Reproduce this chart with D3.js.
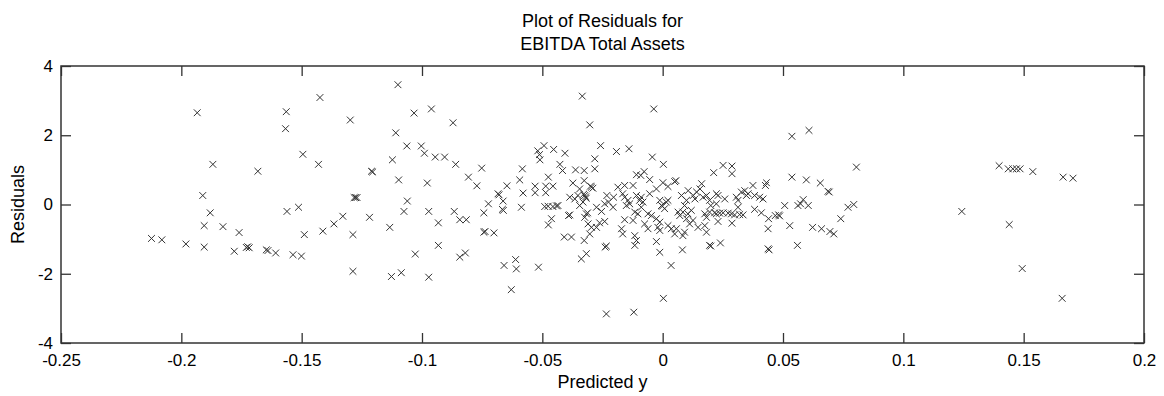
<!DOCTYPE html>
<html>
<head>
<meta charset="utf-8">
<script src="https://cdn.jsdelivr.net/npm/d3@7"></script>
<style>
  html, body { margin: 0; padding: 0; background: #fff; }
  text { font-family: "Liberation Sans", Arial, sans-serif; fill: #000; }
</style>
</head>
<body>
<div id="chart"></div>
<script>
const titleLines = ["Plot of Residuals for", "EBITDA Total Assets"];
const xLabel = "Predicted y";
const yLabel = "Residuals";

const xTickValues = [-0.25, -0.2, -0.15, -0.1, -0.05, 0, 0.05, 0.1, 0.15, 0.2];
const xTickLabels = ["-0.25", "-0.2", "-0.15", "-0.1", "-0.05", "0", "0.05", "0.1", "0.15", "0.2"];
const yTickValues = [-4, -2, 0, 2, 4];
const yTickLabels = ["-4", "-2", "0", "2", "4"];

// predicted y (x) and residual (y)
const predicted = [
  -0.2124, -0.2081, -0.1981, -0.1934, -0.1911, -0.1905, -0.1905, -0.1880, -0.1869, -0.1827,
  -0.1780, -0.1760, -0.1724, -0.1718, -0.1730, -0.1682, -0.1647, -0.1640, -0.1608, -0.1567,
  -0.1564, -0.1561, -0.1536, -0.1513, -0.1501, -0.1495, -0.1489, -0.1430, -0.1424, -0.1412,
  -0.1366, -0.1329, -0.1298, -0.1287, -0.1287, -0.1282, -0.1276, -0.1270, -0.1218, -0.1210,
  -0.1205, -0.1134, -0.1127, -0.1123, -0.1109, -0.1100, -0.1097, -0.1086, -0.1075, -0.1063,
  -0.1061, -0.1033, -0.1028, -0.1003, -0.0990, -0.0978, -0.0972, -0.0972, -0.0961, -0.0945,
  -0.0932, -0.0932, -0.0906, -0.0871, -0.0866, -0.0860, -0.0843, -0.0843, -0.0820, -0.0816,
  -0.0807, -0.0772, -0.0752, -0.0743, -0.0743, -0.0738, -0.0724, -0.0701, -0.0684, -0.0680,
  -0.0666, -0.0662, -0.0663, -0.0659, -0.0647, -0.0629, -0.0611, -0.0608, -0.0594, -0.0587,
  -0.0583, -0.0580, -0.0530, -0.0530, -0.0519, -0.0516, -0.0512, -0.0510, -0.0493, -0.0490,
  -0.0486, -0.0486, -0.0476, -0.0475, -0.0475, -0.0462, -0.0456, -0.0456, -0.0453, -0.0441,
  -0.0435, -0.0427, -0.0416, -0.0409, -0.0406, -0.0391, -0.0386, -0.0386, -0.0379, -0.0373,
  -0.0365, -0.0362, -0.0352, -0.0345, -0.0345, -0.0338, -0.0334, -0.0331, -0.0326, -0.0326,
  -0.0326, -0.0324, -0.0320, -0.0328, -0.0318, -0.0324, -0.0317, -0.0312, -0.0317, -0.0310,
  -0.0303, -0.0303, -0.0296, -0.0290, -0.0300, -0.0296, -0.0282, -0.0282, -0.0275, -0.0275,
  -0.0262, -0.0258, -0.0254, -0.0241, -0.0241, -0.0239, -0.0234, -0.0234, -0.0232, -0.0225,
  -0.0206, -0.0204, -0.0192, -0.0186, -0.0171, -0.0166, -0.0166, -0.0158, -0.0158, -0.0158,
  -0.0151, -0.0144, -0.0140, -0.0137, -0.0123, -0.0123, -0.0120, -0.0116, -0.0116, -0.0116,
  -0.0109, -0.0109, -0.0109, -0.0103, -0.0096, -0.0091, -0.0089, -0.0089, -0.0082, -0.0077,
  -0.0075, -0.0061, -0.0061, -0.0054, -0.0054, -0.0047, -0.0043, -0.0037, -0.0026, -0.0026,
  -0.0026, -0.0020, -0.0012, -0.0012, -0.0012, -0.0012, -0.0005, -0.0001, 0.0001, 0.0003,
  0.0003, 0.0008, 0.0015, 0.0022, 0.0022, 0.0022, 0.0035, 0.0036, 0.0050, 0.0055,
  0.0050, 0.0057, 0.0064, 0.0071, 0.0078, 0.0082, 0.0084, 0.0084, 0.0091, 0.0091,
  0.0099, 0.0099, 0.0105, 0.0106, 0.0112, 0.0119, 0.0126, 0.0127, 0.0134, 0.0141,
  0.0147, 0.0155, 0.0162, 0.0168, 0.0175, 0.0175, 0.0182, 0.0182, 0.0182, 0.0195,
  0.0195, 0.0195, 0.0200, 0.0200, 0.0212, 0.0223, 0.0223, 0.0223, 0.0216, 0.0230,
  0.0230, 0.0237, 0.0240, 0.0251, 0.0251, 0.0258, 0.0272, 0.0286, 0.0288, 0.0288,
  0.0288, 0.0299, 0.0306, 0.0313, 0.0313, 0.0320, 0.0327, 0.0334, 0.0341, 0.0348,
  0.0355, 0.0375, 0.0382, 0.0382, 0.0403, 0.0410, 0.0417, 0.0427, 0.0431, 0.0438,
  0.0438, 0.0442, 0.0440, 0.0468, 0.0482, 0.0486, 0.0507, 0.0528, 0.0537, 0.0537,
  0.0560, 0.0562, 0.0573, 0.0584, 0.0597, 0.0605, 0.0608, 0.0623, 0.0655, 0.0660,
  0.0687, 0.0692, 0.0695, 0.0711, 0.0740, 0.0770, 0.0794, 0.0805, 0.1243, 0.1398,
  0.1436, 0.1440, 0.1455, 0.1470, 0.1485, 0.1494, 0.1538, 0.1660, 0.1664, 0.1705
];
const residuals = [
  -0.98, -1.02, -1.14, 2.65, 0.26, -0.61, -1.23, -0.24, 1.16, -0.64,
  -1.35, -0.81, -1.22, -1.25, -1.24, 0.96, -1.31, -1.33, -1.40, 2.19,
  2.68, -0.20, -1.45, -0.08, -1.49, 1.45, -0.87, 1.16, 3.09, -0.77,
  -0.56, -0.34, 2.44, -0.87, -1.93, 0.20, 0.20, 0.20, -0.37, 0.96,
  0.94, -0.66, -2.08, 1.29, 2.07, 3.46, 0.71, -1.97, -0.20, 1.69,
  0.10, 2.64, -1.43, 1.69, 1.48, 0.62, -0.20, -2.10, 2.76, 1.37,
  -0.53, -1.18, 1.37, 2.36, -0.20, 1.16, -0.44, -1.52, -1.40, -0.44,
  0.79, 0.54, 1.05, -0.24, -0.80, -0.78, 0.02, -0.82, 0.31, 0.28,
  -0.14, -0.17, 0.10, -1.76, 0.54, -2.46, -1.59, -1.86, 0.71, -0.08,
  1.03, 0.33, 0.53, 0.34, 1.55, -1.81, 1.44, 1.29, 1.70, -0.06,
  0.53, 0.34, -0.05, 0.79, -0.59, -0.41, 0.53, -0.06, 1.59, -0.04,
  -0.03, 1.16, 0.98, -0.94, 1.48, -0.32, -0.30, 0.21, -0.94, 0.62,
  0.16, 1.00, 0.26, 0.45, -0.03, -1.57, 3.13, 0.07, 0.98, 0.69,
  -1.04, 0.26, 0.22, 0.30, 0.18, -0.37, -0.27, -0.24, -1.42, -0.56,
  2.30, -0.85, 0.50, 0.47, 0.53, -0.66, 1.32, 1.03, -0.08, -0.66,
  -0.53, 1.70, -0.20, 0.02, -0.49, -1.23, -1.20, -3.16, 0.26, 0.07,
  -0.08, 0.21, 1.53, 0.50, -0.70, 0.31, -0.85, 0.55, 0.21, -0.44,
  -0.03, 0.12, 1.61, 0.02, 0.55, -0.46, -3.11, -0.22, -0.90, -1.18,
  0.86, 0.26, -1.04, -0.27, 0.12, 0.84, 0.21, -0.08, 0.07, 0.95,
  -0.56, -0.27, -0.70, 0.72, 0.31, -0.32, 1.37, 2.76, 0.45, -0.41,
  -1.07, -0.66, -0.75, 0.12, -0.51, -1.38, -0.03, -0.05, 0.63, 1.16,
  -2.71, -0.12, 0.07, 0.52, 0.12, -0.61, -1.76, -0.70, 0.66, 0.69,
  -0.85, -0.70, -0.22, -0.32, 0.26, -1.31, -0.22, -0.90, -0.03, -0.80,
  0.12, -0.41, -0.27, 0.40, -0.56, -0.17, -0.46, 0.26, 0.16, 0.36,
  -0.66, 0.45, 0.60, 0.21, -0.27, -0.61, 0.26, -0.37, -0.80, 0.12,
  -0.22, -1.18, -1.20, -0.03, 0.92, 0.02, -0.27, 0.31, -0.24, 0.26,
  -0.49, -0.25, -1.11, 1.13, -0.24, 0.16, -0.25, -0.27, 1.11, 0.89,
  -0.54, -0.30, 0.21, 0.12, -0.08, -0.29, 0.36, -0.30, 0.40, 0.26,
  0.31, 0.55, 0.26, -0.14, 0.21, -0.24, 0.16, 0.55, 0.63, -0.70,
  -1.28, -1.31, -0.41, -0.32, -0.30, -0.33, -0.03, -0.61, 1.97, 0.79,
  -1.18, -0.03, 0.02, 0.14, 0.71, -0.03, 2.14, -0.66, 0.62, -0.70,
  0.38, 0.36, -0.78, -0.85, -0.41, -0.08, 0.00, 1.08, -0.20, 1.12,
  1.03, -0.58, 1.03, 1.03, 1.03, -1.85, 0.95, -2.71, 0.79, 0.76
];

const width = 1164;
const height = 396;
const plot = { left: 61, right: 1144, top: 66, bottom: 343 };
const tickLen = 10;

const x = d3.scaleLinear().domain([-0.25, 0.2]).range([plot.left, plot.right]);
const y = d3.scaleLinear().domain([-4, 4]).range([plot.bottom, plot.top]);

const svg = d3.select("#chart").append("svg")
    .attr("width", width)
    .attr("height", height)
    .style("display", "block");

svg.append("rect")
    .attr("width", width)
    .attr("height", height)
    .attr("fill", "#fff");

// axes: ticks point inward on all four sides, labels only bottom and left
svg.append("g")
    .attr("transform", `translate(0,${plot.bottom})`)
    .call(d3.axisBottom(x)
        .tickValues(xTickValues)
        .tickFormat((d, i) => xTickLabels[i])
        .tickSizeInner(-tickLen)
        .tickSizeOuter(0)
        .tickPadding(11));

svg.append("g")
    .attr("transform", `translate(${plot.left},0)`)
    .call(d3.axisLeft(y)
        .tickValues(yTickValues)
        .tickFormat((d, i) => yTickLabels[i])
        .tickSizeInner(-tickLen)
        .tickSizeOuter(0)
        .tickPadding(8));

svg.append("g")
    .attr("transform", `translate(0,${plot.top})`)
    .call(d3.axisTop(x).tickValues(xTickValues).tickFormat("").tickSizeInner(-tickLen).tickSizeOuter(0));

svg.append("g")
    .attr("transform", `translate(${plot.right},0)`)
    .call(d3.axisRight(y).tickValues(yTickValues).tickFormat("").tickSizeInner(-tickLen).tickSizeOuter(0));

svg.selectAll(".domain").remove();
svg.selectAll(".tick line")
    .attr("stroke", "#333")
    .attr("stroke-width", 1.3);
svg.selectAll(".tick text")
    .attr("font-family", "'Liberation Sans', Arial, sans-serif")
    .attr("font-size", 17)
    .attr("fill", "#000");

svg.append("rect")
    .attr("x", plot.left)
    .attr("y", plot.top)
    .attr("width", plot.right - plot.left)
    .attr("height", plot.bottom - plot.top)
    .attr("fill", "none")
    .attr("stroke", "#333")
    .attr("stroke-width", 1.5);

// x markers
const points = predicted.map((p, i) => ({ p: p, r: residuals[i] }));
const s = 3.4;
svg.append("g")
    .selectAll("path")
    .data(points)
    .enter()
    .append("path")
    .attr("transform", d => `translate(${x(d.p)},${y(d.r)})`)
    .attr("d", `M${-s},${-s}L${s},${s}M${-s},${s}L${s},${-s}`)
    .attr("fill", "none")
    .attr("stroke", "#333")
    .attr("stroke-width", 1);

// title and labels
const cx = (plot.left + plot.right) / 2;
svg.append("g")
    .selectAll("text")
    .data(titleLines)
    .enter()
    .append("text")
    .attr("x", cx)
    .attr("y", (d, i) => 27 + i * 23)
    .attr("text-anchor", "middle")
    .attr("font-size", 18)
    .text(d => d);

svg.append("text")
    .attr("x", cx)
    .attr("y", 388)
    .attr("text-anchor", "middle")
    .attr("font-size", 18)
    .text(xLabel);

svg.append("text")
    .attr("transform", `translate(24,${(plot.top + plot.bottom) / 2}) rotate(-90)`)
    .attr("text-anchor", "middle")
    .attr("font-size", 18)
    .text(yLabel);
</script>
</body>
</html>
